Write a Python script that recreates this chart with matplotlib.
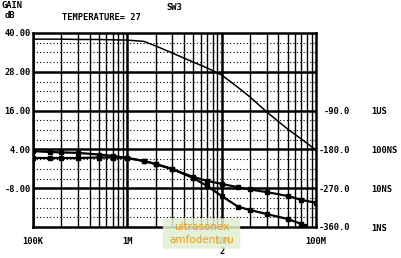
import matplotlib
matplotlib.use('Agg')
import matplotlib.pyplot as plt
from matplotlib.patches import FancyBboxPatch

# frequency points (Hz)
freq = [1e5, 1.5e5, 2e5, 3e5, 5e5, 7e5, 1e6, 1.5e6, 2e6, 3e6, 5e6, 7e6,
        1e7, 1.5e7, 2e7, 3e7, 5e7, 7e7, 1e8]

# gain (dB)
gain = [38.1, 38.1, 38.1, 38.0, 38.0, 37.9, 37.8, 37.4, 36.0, 33.8, 31.0, 29.2,
        27.0, 23.1, 20.2, 15.6, 10.3, 7.2, 3.8]

# phase (deg)
phase = [-184, -186, -187, -188, -192, -195, -200, -207, -214, -226, -244, -253,
         -260, -268, -273, -279, -288, -297, -304]

# group delay (s), curve runs off the bottom before 100M
delay_freq = [1e5, 1.5e5, 2e5, 3e5, 5e5, 7e5, 1e6, 1.5e6, 2e6, 3e6, 5e6, 7e6,
              1e7, 1.5e7, 2e7, 3e7, 5e7, 7e7, 7.5e7]
delay = [60e-9, 60e-9, 60e-9, 60e-9, 61.8e-9, 61.8e-9, 60e-9, 50.2e-9, 42e-9,
         31.2e-9, 18.3e-9, 11.4e-9, 6.3e-9, 3.3e-9, 2.74e-9, 2.16e-9, 1.61e-9,
         1.2e-9, 1.09e-9]

xticks = [1e5, 1e6, 1e7, 1e8]
xlabels = ['100K', '1M', '10M', '100M']
gain_ticks = [40, 28, 16, 4, -8]
phase_ticks = [-90, -180, -270, -360]
delay_ticks = [1e-6, 1e-7, 1e-8, 1e-9]
delay_labels = ['1US', '100NS', '10NS', '1NS']

W, H = 401, 258
font = dict(family='DejaVu Sans Mono', weight='bold', size=6.3)

fig = plt.figure(figsize=(W / 100, H / 100), dpi=100)
ax = fig.add_axes([33 / W, 31 / H, 283 / W, 194 / H])
ax.set_xscale('log')
ax.set_xlim(1e5, 1e8)
ax.set_ylim(-20, 40)

# grid: decade + 2..9 verticals, major/minor horizontals
for d in [1e5, 1e6, 1e7]:
    for m in range(2, 10):
        ax.axvline(d * m, color='black', lw=1.0, zorder=1)
    ax.axvline(d, color='black', lw=1.8, zorder=1)
for g in range(-17, 40, 3):
    if (g - 4) % 12 == 0:
        ax.axhline(g, color='black', lw=1.8, zorder=1)
    else:
        ax.axhline(g, color='black', lw=0.8, ls=(0, (1, 2)), zorder=1)

ax.plot(freq, gain, color='black', lw=1.1, zorder=3)

ax.set_xticks(xticks)
ax.set_xticklabels(xlabels, fontdict=font)
ax.xaxis.set_minor_locator(matplotlib.ticker.NullLocator())
ax.set_yticks(gain_ticks)
ax.set_yticklabels(['%.2f' % v for v in gain_ticks], fontdict=font)
ax.tick_params(length=0)
ax.tick_params(axis='x', pad=7)
ax.tick_params(axis='y', pad=1.5)
for s in ax.spines.values():
    s.set_linewidth(1.8)

ax2 = ax.twinx()
ax2.set_ylim(-360, 90)
ax2.plot(freq, phase, color='black', lw=1.6, marker='s', ms=2.8, zorder=3)
ax2.set_yticks(phase_ticks)
ax2.set_yticklabels(['%.1f' % v for v in phase_ticks], fontdict=font, ha='right')
ax2.tick_params(length=0, pad=24.5)

ax3 = ax.twinx()
ax3.set_yscale('log')
ax3.set_ylim(1e-9, 1e-4)
ax3.plot(delay_freq, delay, color='black', lw=1.6, marker='s', ms=2.8, zorder=3)
ax3.set_yticks(delay_ticks)
ax3.set_yticklabels(delay_labels, fontdict=font)
ax3.yaxis.set_minor_locator(matplotlib.ticker.NullLocator())
ax3.tick_params(length=0, pad=40)
for a in (ax2, ax3):
    for s in a.spines.values():
        s.set_visible(False)

# header texts
fig.text(2 / W, 1 - 6 / H, 'GAIN', va='center', ha='left', **font)
fig.text(5 / W, 1 - 15 / H, 'dB', va='center', ha='left', **font)
fig.text(62 / W, 1 - 18 / H, 'TEMPERATURE= 27', va='center', ha='left', **font)
fig.text(166 / W, 1 - 7 / H, 'SW3', va='center', ha='left', **font)
fig.text(222 / W, 1 - 251 / H, '2', va='center', ha='center', **font)

# watermark
box = FancyBboxPatch((164 / W, 1 - 248 / H), 75 / W, 29 / H,
                     boxstyle='round,pad=0.003', transform=fig.transFigure,
                     facecolor='#dff0d0', edgecolor='none', alpha=0.85, zorder=5)
fig.add_artist(box)
fig.text(202 / W, 1 - 227 / H, 'ultrasonex', color='#f29a1c', ha='center',
         va='center', fontsize=7.5, family='DejaVu Sans', zorder=6)
fig.text(202 / W, 1 - 240 / H, 'amfodent.ru', color='#f29a1c', ha='center',
         va='center', fontsize=7.5, family='DejaVu Sans', zorder=6)

fig.savefig('out.png', dpi=100)
